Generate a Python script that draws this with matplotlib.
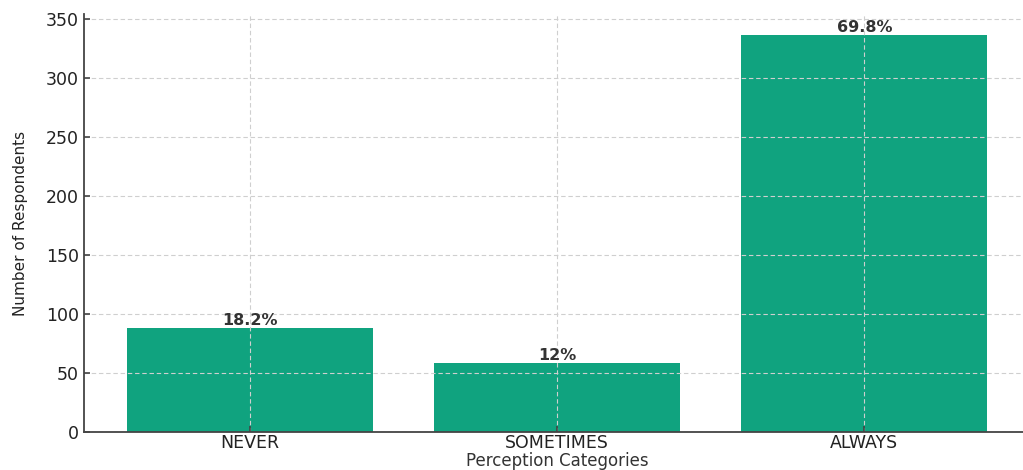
import matplotlib.pyplot as plt

# Data
categories = ['NEVER', 'SOMETIMES', 'ALWAYS']
respondents = [88, 58, 336]
percent_labels = ['18.2%', '12%', '69.8%']

bar_color = '#10a37f'

fig = plt.figure(figsize=(10.23, 4.70), dpi=100)
ax = fig.add_axes([0.082, 0.081, 0.925, 0.889])

bars = ax.bar(categories, respondents, color=bar_color, width=0.8)

ax.set_xlim(-0.54, 2.54)
ax.set_ylim(0, 354)
ax.set_yticks([0, 50, 100, 150, 200, 250, 300, 350])

ax.grid(True, linestyle=(0, (4, 2.5)), color='#cfcfcf', linewidth=0.8)

for spine in ['top', 'right']:
    ax.spines[spine].set_visible(False)
for spine in ['left', 'bottom']:
    ax.spines[spine].set_color('#444444')
    ax.spines[spine].set_linewidth(1.3)

ax.tick_params(axis='both', direction='in', labelsize=12.5, colors='#444444',
               length=4, width=1.2)
ax.tick_params(axis='x', pad=1.5)
for lbl in ax.get_xticklabels() + ax.get_yticklabels():
    lbl.set_color('#222222')

ax.set_xlabel('Perception Categories', fontsize=12, color='#333333', labelpad=0)
ax.set_ylabel('Number of Respondents', fontsize=11, color='#222222', labelpad=13)

# percentage labels on top of each bar
for bar, txt in zip(bars, percent_labels):
    h = bar.get_height()
    ax.text(bar.get_x() + bar.get_width() / 2, h, txt, ha='center', va='bottom',
            fontsize=11.5, fontweight='bold', color='#333333')

fig.savefig('out.png', dpi=100)
